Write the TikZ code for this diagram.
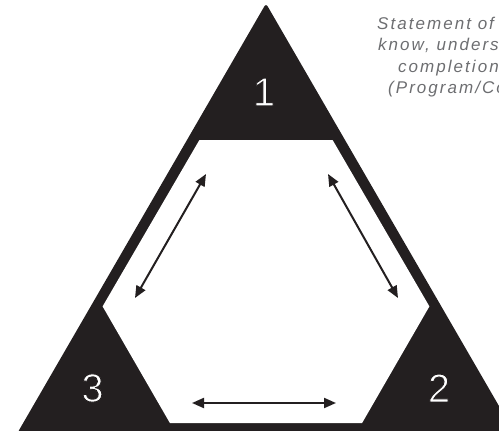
\documentclass[tikz,border=0pt]{standalone}
\usepackage{fontspec}
\setmainfont{Liberation Sans}
\newfontfamily\notefont[LetterSpace=12]{Liberation Sans}
\usetikzlibrary{arrows.meta}
\definecolor{ink}{HTML}{231F20}
\definecolor{note}{HTML}{6D6E71}
% thin white digits: fill white, then stroke the outline in the background ink
\newcommand\thindigit[1]{\special{pdf:code q 2 Tr 0.9 w 0.137 0.122 0.125 RG}#1\special{pdf:code Q}}
\tikzset{
  corner/.style={inner sep=0pt, text=white, font=\fontsize{40}{40}\selectfont},
  link/.style={ink, line width=2pt, {Triangle[length=12pt,width=10pt]}-{Triangle[length=12pt,width=10pt]}},
  caption/.style={anchor=base west, inner sep=0pt, text=note, font=\notefont\itshape\fontsize{17}{20}\selectfont}
}
\begin{document}
\begin{tikzpicture}[x=1pt,y=-1pt]
\useasboundingbox (0,0) rectangle (499,431);
\begin{scope}
\clip (0,0) rectangle (499,431);
% outer triangle
\fill[ink, rounded corners=3pt] (266,3.5) -- (514.6,433) -- (17.4,433) -- cycle;
% inner hexagon
\fill[white] (199.4,140) -- (332.6,140) -- (429.4,306.4) -- (362.1,423)
  -- (169.9,423) -- (102.6,306.4) -- cycle;
% corner numbers
\node[corner] (n1) at (264,92) {\thindigit{1}};
\node[corner] (n2) at (439,388) {\thindigit{2}};
\node[corner] (n3) at (92.5,388) {\thindigit{3}};
% arrow end points
\coordinate (a1) at (206,174);
\coordinate (a2) at (135,298);
\coordinate (b1) at (328,174);
\coordinate (b2) at (398,298);
\coordinate (c1) at (192,403);
\coordinate (c2) at (336,403);
\draw[link] (a1) -- (a2);
\draw[link] (b1) -- (b2);
\draw[link] (c1) -- (c2);
% note text, running past the right edge
\node[caption] (t1) at (377,29) {Statement of};
\node[caption] (t2) at (378,50.5) {know, understand};
\node[caption] (t3) at (398,72) {completion of};
\node[caption] (t4) at (388,93.5) {(Program/Course};
\end{scope}
\end{tikzpicture}
\end{document}
